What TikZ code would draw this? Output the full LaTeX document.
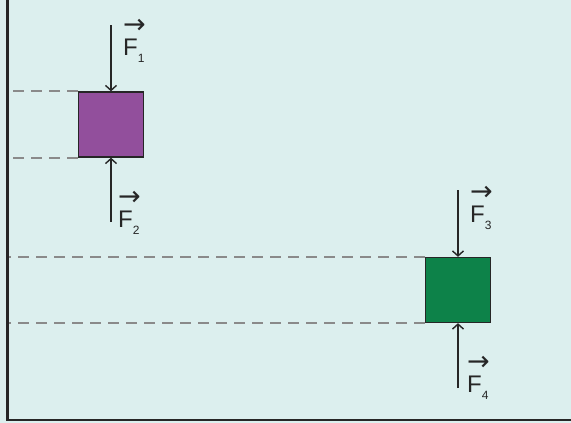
\documentclass[tikz,border=0pt]{standalone}
\usepackage{amsmath}
\usepackage{fontspec}
\setmainfont{Liberation Sans}
\newfontfamily\arrowfont{DejaVu Sans}
\usepackage{tikz}
\usetikzlibrary{positioning,%
  arrows.meta,%
  calc
}

\definecolor{bgcyan}{HTML}{DCEFEE}
\definecolor{boxpurple}{HTML}{924F9C}
\definecolor{boxgreen}{HTML}{0D8249}
\definecolor{guidegray}{HTML}{8A8A8A}
\definecolor{inkdark}{HTML}{262626}

\newcommand{\forcelab}[1]{\shortstack[l]{\rlap{\arrowfont\fontsize{27}{27}\selectfont →}\\[2pt]F}\raisebox{-7.5pt}{\fontsize{12}{12}\selectfont #1}}

\begin{document}
\begin{tikzpicture}[x=1pt,y=-1pt,
    box/.style={draw=inkdark, line width=1.3pt, minimum size=65pt, inner sep=0pt},
    force/.style={draw=inkdark, line width=1.4pt, -{Straight Barb[length=5pt,width=11pt,line width=1.4pt]}},
    guide/.style={draw=guidegray, line width=1.8pt, dash pattern=on 11pt off 7pt},
    wall/.style={draw=inkdark, line width=2.6pt},
    flabel/.style={inner sep=0pt, anchor=base west, font=\fontsize{24}{24}\selectfont, text=inkdark}]
            \fill [bgcyan] (0,0) rectangle (571,423);
            \useasboundingbox (0,0) rectangle (571,423);

            \coordinate (wall top) at (7.5,0);
            \coordinate (floor left) at (7.5,420);
            \coordinate (floor right) at (571,420);

            \node [box, fill=boxpurple] (purple) at (111,124.5) {};
            \node [box, fill=boxgreen] (green) at (458,290) {};

            \draw [guide] (purple.north west) -- (purple.north west -| wall top);
            \draw [guide] (purple.south west) -- (purple.south west -| wall top);
            \draw [guide] (green.north west) -- (green.north west -| wall top);
            \draw [guide] (green.south west) -- (green.south west -| wall top);
            \node [box, fill=boxpurple] at (purple) {};
            \node [box, fill=boxgreen] at (green) {};

            \draw [wall] (wall top) -- (floor left) -- (floor right);

            \coordinate (f1) at (111,25);
            \coordinate (f2) at (111,222);
            \coordinate (f3) at (458,190);
            \coordinate (f4) at (458,388);
            \draw [force] (f1) -- (purple.north);
            \draw [force] (f2) -- (purple.south);
            \draw [force] (f3) -- (green.north);
            \draw [force] (f4) -- (green.south);

            \node [flabel] (lab1) at (123,55) {\forcelab{1}};
            \node [flabel] (lab2) at (118,227) {\forcelab{2}};
            \node [flabel] (lab3) at (470,222) {\forcelab{3}};
            \node [flabel] (lab4) at (467,392) {\forcelab{4}};
        \end{tikzpicture}
\end{document}
